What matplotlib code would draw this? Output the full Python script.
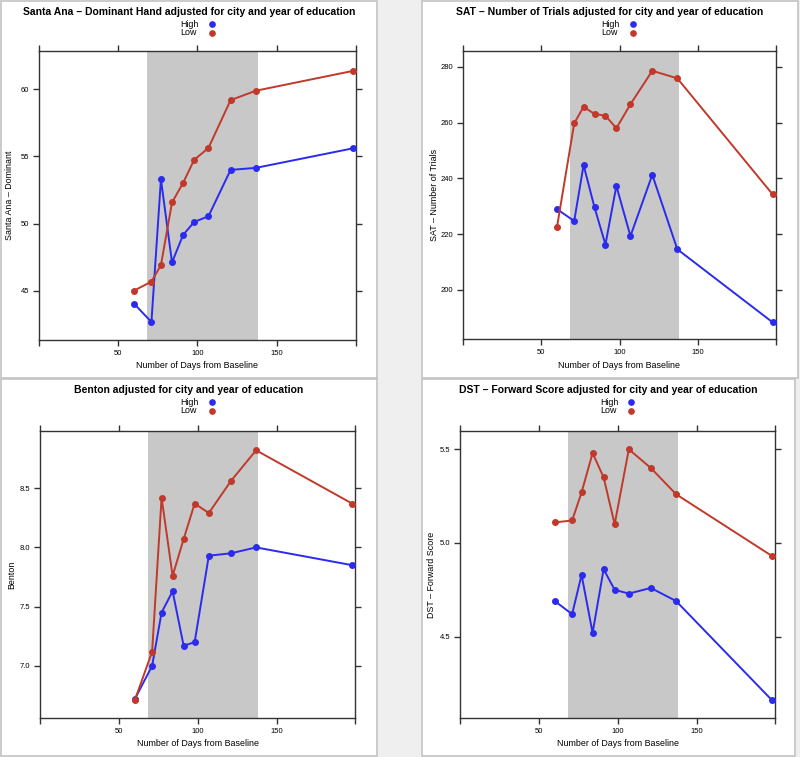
import numpy as np
import matplotlib.pyplot as plt
from matplotlib.patches import Rectangle

plt.rcParams['font.family'] = ['Liberation Sans', 'DejaVu Sans']

# days from baseline, shared by all four panels
days = [60, 71, 77, 84, 91, 98, 107, 121, 137, 198]

# Santa Ana - Dominant Hand
santa_high = [44.03, 42.66, 53.3, 47.1, 49.15, 50.12, 50.54, 54.0, 54.15, 55.6]
santa_low = [45.0, 45.67, 46.9, 51.57, 53.03, 54.75, 55.63, 59.2, 59.9, 61.37]

# SAT - Number of Trials
sat_high = [229.0, 224.7, 244.8, 229.6, 216.3, 237.3, 219.3, 241.3, 214.6, 188.4]
sat_low = [222.6, 259.75, 265.7, 263.1, 262.5, 258.0, 266.6, 278.6, 275.9, 234.3]

# Benton
benton_high = [6.72, 7.0, 7.45, 7.63, 7.17, 7.20, 7.93, 7.95, 8.0, 7.85]
benton_low = [6.71, 7.12, 8.42, 7.76, 8.07, 8.37, 8.29, 8.56, 8.82, 8.37]

# DST - Forward Score
dst_high = [4.69, 4.62, 4.83, 4.52, 4.86, 4.75, 4.73, 4.76, 4.69, 4.16]
dst_low = [5.11, 5.12, 5.27, 5.48, 5.35, 5.10, 5.50, 5.40, 5.26, 4.93]

W, H = 800, 757
fig = plt.figure(figsize=(W / 100, H / 100), dpi=100, facecolor='#efefef')

red = '#c0392b'
blue = '#2b2bee'
band = (68.5, 138)

# panel boxes and plot areas in pixels (left, top, right, bottom)
panels = [
    dict(box=(1, 1, 377, 378), plot=(39, 51, 355.7, 340),
         title='Santa Ana \u2013 Dominant Hand adjusted for city and year of education',
         ylabel='Santa Ana \u2013 Dominant', high=santa_high, low=santa_low,
         ylim=(41.32, 62.86), yticks=[45, 50, 55, 60], ylabels=['45', '50', '55', '60']),
    dict(box=(422, 1, 798, 378), plot=(463.3, 51, 775.7, 339.3),
         title='SAT \u2013 Number of Trials adjusted for city and year of education',
         ylabel='SAT \u2013 Number of Trials', high=sat_high, low=sat_low,
         ylim=(182.3, 285.7), yticks=[200, 220, 240, 260, 280],
         ylabels=['200', '220', '240', '260', '280']),
    dict(box=(1, 379, 377, 756), plot=(40.3, 431.3, 355.3, 718),
         title='Benton adjusted for city and year of education',
         ylabel='Benton', high=benton_high, low=benton_low,
         ylim=(6.56, 8.98), yticks=[7.0, 7.5, 8.0, 8.5], ylabels=['7.0', '7.5', '8.0', '8.5']),
    dict(box=(422, 379, 795, 756), plot=(460.3, 431.3, 775.3, 718),
         title='DST \u2013 Forward Score adjusted for city and year of education',
         ylabel='DST \u2013 Forward Score', high=dst_high, low=dst_low,
         ylim=(4.066, 5.596), yticks=[4.5, 5.0, 5.5], ylabels=['4.5', '5.0', '5.5']),
]

for p in panels:
    x0, y0, x1, y1 = p['box']
    fig.add_artist(Rectangle((x0 / W, 1 - y1 / H), (x1 - x0) / W, (y1 - y0) / H,
                             transform=fig.transFigure, facecolor='white',
                             edgecolor='#c4c4c4', linewidth=1.2, zorder=0))
    l, t, r, b = p['plot']
    ax = fig.add_axes([l / W, 1 - b / H, (r - l) / W, (b - t) / H])
    ax.axvspan(band[0], band[1], color='#c8c8c8', lw=0, zorder=1)
    ax.plot(days, p['high'], color=blue, lw=1.4, marker='o', ms=4, zorder=3)
    ax.plot(days, p['low'], color=red, lw=1.4, marker='o', ms=4, zorder=3)
    ax.set_xlim(0, 200)
    ax.set_ylim(*p['ylim'])
    ax.set_xticks([0, 50, 100, 150, 200])
    ax.set_xticklabels(['', '50', '100', '150', ''])
    ax.set_yticks(p['yticks'])
    ax.set_yticklabels(p['ylabels'])
    ax.tick_params(direction='out', top=True, right=True, length=4, width=1,
                   color='#333333', labelsize=5.5, pad=3)
    for s in ax.spines.values():
        s.set_color('#333333')
        s.set_linewidth(1)

    # title, key, axis labels placed relative to the panel box
    cx = (x0 + x1) / 2
    fig.text(cx / W, 1 - (y0 + 11) / H, p['title'], ha='center', va='center',
             fontsize=7.5, fontweight='bold')
    fig.text((cx - 8.5) / W, 1 - (y0 + 23.8) / H, 'High', ha='left', va='center', fontsize=6.4)
    fig.text((cx - 8.5) / W, 1 - (y0 + 31.8) / H, 'Low', ha='left', va='center', fontsize=6.4)
    fig.add_artist(plt.Line2D([(cx + 22.5) / W], [1 - (y0 + 23) / H], marker='o',
                              ms=3.8, color=blue, transform=fig.transFigure))
    fig.add_artist(plt.Line2D([(cx + 22.5) / W], [1 - (y0 + 31.5) / H], marker='o',
                              ms=3.8, color=red, transform=fig.transFigure))
    fig.text((l + r) / 2 / W, 1 - (b + 26) / H, 'Number of Days from Baseline',
             ha='center', va='center', fontsize=6.4)
    fig.text((l - 29) / W, 1 - (t + b) / 2 / H, p['ylabel'], rotation=90,
             ha='center', va='center', fontsize=6.4)

fig.savefig('out.png', dpi=100, facecolor=fig.get_facecolor())
